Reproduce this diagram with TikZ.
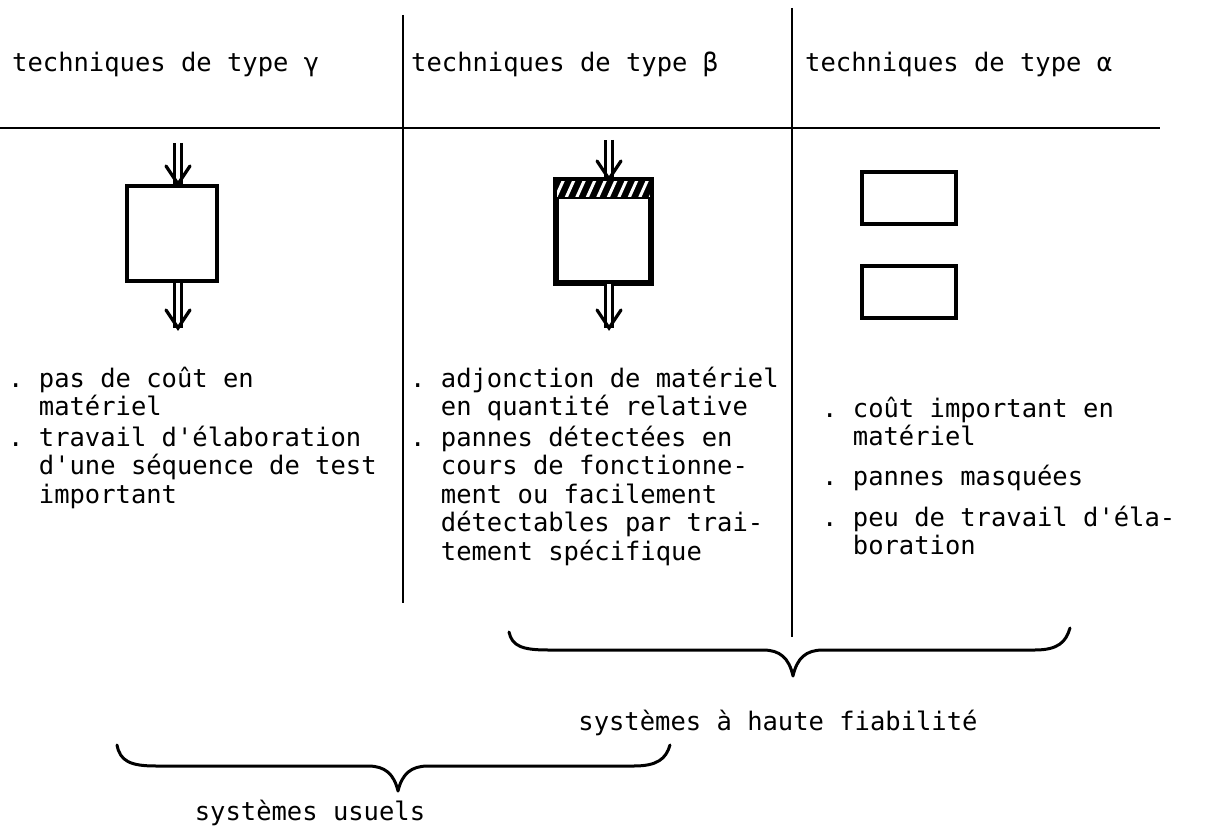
\documentclass[tikz,border=0pt]{standalone}
\usepackage{fontspec}
\setmonofont{DejaVu Sans Mono}
\usetikzlibrary{calc}
% a left-aligned block whose baseline is that of its first line
\newcommand\puce[1]{\begin{tabular}[t]{@{}l@{}}#1\end{tabular}}
\newcommand\dotpre{.\hphantom{.}}
\newcommand\indt{\hphantom{..}}
\tikzset{
  txt/.style={inner sep=0pt, anchor=base west,
    font=\ttfamily\fontsize{25.5pt}{28.5pt}\selectfont},
  ctxt/.style={inner sep=0pt, anchor=base,
    font=\ttfamily\fontsize{25.5pt}{28.5pt}\selectfont},
  blockbox/.style={draw, line width=4pt, inner sep=0pt, line join=miter},
  rule/.style={line width=1.6pt},
  hrule/.style={line width=2.2pt},
  shaft/.style={double distance=3.6pt, line width=2.8pt},
  head/.style={line width=3.2pt, line join=miter, line cap=round},
  brace/.style={line width=3pt, line cap=round, line join=round},
}
\begin{document}
\begin{tikzpicture}[x=1pt, y=-1pt]
\useasboundingbox (0,0) rectangle (1205,826);

% frame of the three columns
\coordinate (hl) at (0,128);
\coordinate (hr) at (1160,128);
\coordinate (v1t) at (403,15);
\coordinate (v1b) at (403,603);
\coordinate (v2t) at (792,8);
\coordinate (v2b) at (792,637);
\draw[hrule] (hl) -- (hr);
\draw[rule] (v1t) -- (v1b);
\draw[rule] (v2t) -- (v2b);

% column headings
\node[txt] (hg) at (12,72) {techniques de type γ};
\node[txt] (hb) at (411,72) {techniques de type β};
\node[txt] (ha) at (805,72) {techniques de type α};

% gamma: plain block with its input and output
\node[blockbox, minimum width=90pt, minimum height=95pt] (gbox) at (171.5,233.5) {};
\coordinate (gin) at (178,143);
\coordinate (gintip) at ([xshift=6.5pt]gbox.north);
\coordinate (goutst) at ([xshift=6.5pt]gbox.south);
\coordinate (gout) at (178,328);
\draw[shaft] (gin) -- (gintip);
\draw[head] ($(gintip)+(-12,-18)$) -- (gintip) -- ($(gintip)+(12,-18)$);
\draw[shaft] (goutst) -- (gout);
\draw[head] ($(gout)+(-12,-18)$) -- (gout) -- ($(gout)+(12,-18)$);

% beta: block with a hatched band on top
\node[blockbox, minimum width=93pt, minimum height=101pt] (bbox) at (603.5,231.5) {};
\fill (bbox.north west) rectangle ($(bbox.north east)+(0,20)$);
\begin{scope}
  \clip ($(bbox.north west)+(2,2)$) rectangle ($(bbox.north east)+(-2,18)$);
  \foreach \i in {-1,...,10}
    \draw[white, line width=3pt] ($(bbox.north west)+(\i*10.5,20)$) -- ++(9,-20);
\end{scope}
\draw[line width=4pt] (bbox.north west) rectangle (bbox.south east);
\coordinate (bin) at (609,140);
\coordinate (bintip) at ([xshift=5.5pt]bbox.north);
\coordinate (boutst) at ([xshift=5.5pt]bbox.south);
\coordinate (bout) at (609,328);
\draw[shaft] (bin) -- (bintip);
\draw[head] ($(bintip)+(-12,-18)$) -- (bintip) -- ($(bintip)+(12,-18)$);
\draw[shaft] (boutst) -- (bout);
\draw[head] ($(bout)+(-12,-18)$) -- (bout) -- ($(bout)+(12,-18)$);

% alpha: two blocks
\node[blockbox, minimum width=94pt, minimum height=52pt] (abox1) at (909,198) {};
\node[blockbox, minimum width=94pt, minimum height=52pt] (abox2) at (909,292.5) {};

% remarks, column gamma
\node[txt] (g1) at (8,387) {\puce{\dotpre pas de coût en\\\indt matériel}};
\node[txt] (g2) at (8,446) {\puce{\dotpre travail d'élaboration\\\indt d'une séquence de test\\\indt important}};

% remarks, column beta
\node[txt] (b1) at (410,387) {\puce{\dotpre adjonction de matériel\\\indt en quantité relative}};
\node[txt] (b2) at (410,446) {\puce{\dotpre pannes détectées en\\\indt cours de fonctionne-\\\indt ment ou facilement\\\indt détectables par trai-\\\indt tement spécifique}};

% remarks, column alpha
\node[txt] (a1) at (822,417) {\puce{\dotpre coût important en\\\indt matériel}};
\node[txt] (a2) at (822,485) {\puce{\dotpre pannes masquées}};
\node[txt] (a3) at (822,526) {\puce{\dotpre peu de travail d'éla-\\\indt boration}};

% brace over columns beta and alpha
\coordinate (ubl) at (509,632);
\coordinate (ubt) at (793,676);
\coordinate (ubr) at (1070,628);
\draw[brace] (ubl) .. controls (512,646) and (522,650) .. (548,650)
  -- (763,650) .. controls (780,650) and (789,658) .. (ubt)
  .. controls (797,658) and (806,650) .. (823,650)
  -- (1035,650) .. controls (1058,650) and (1066,642) .. (ubr);
\node[ctxt] (uhf) at (778,730) {systèmes à haute fiabilité};

% brace over columns gamma and beta
\coordinate (lbl) at (117,745);
\coordinate (lbt) at (398,791);
\coordinate (lbr) at (670,745);
\draw[brace] (lbl) .. controls (120,761) and (130,766) .. (156,766)
  -- (368,766) .. controls (385,766) and (394,774) .. (lbt)
  .. controls (402,774) and (411,766) .. (428,766)
  -- (634,766) .. controls (657,766) and (666,759) .. (lbr);
\node[ctxt] (usu) at (310,820) {systèmes usuels};
\end{tikzpicture}
\end{document}
